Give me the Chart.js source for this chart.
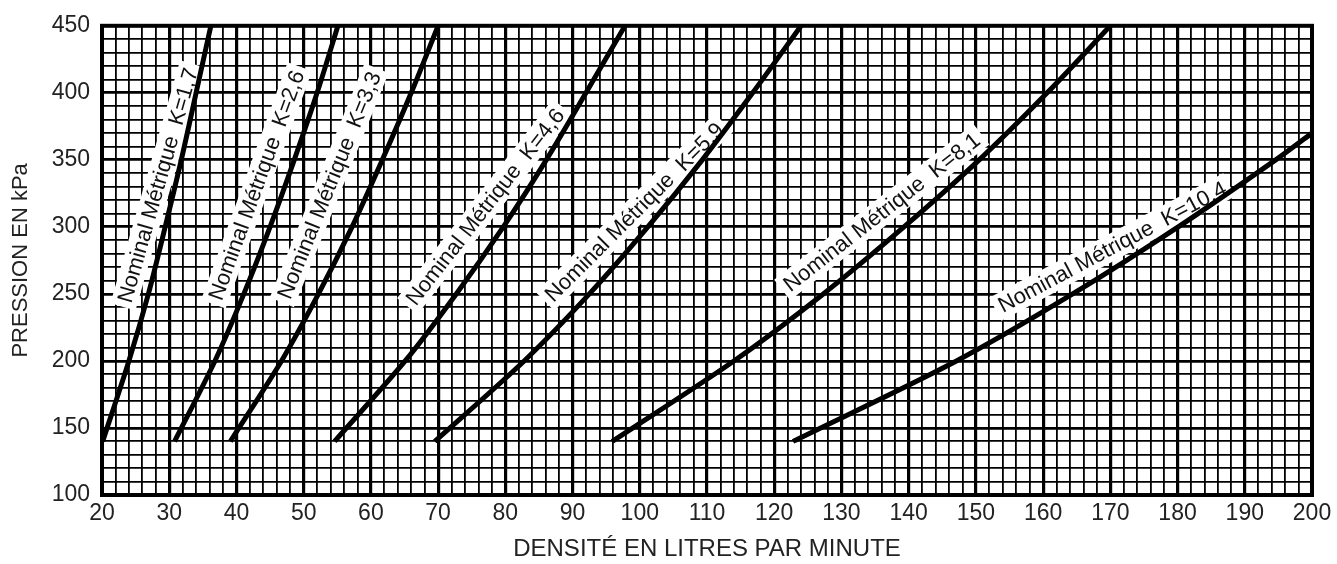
<!DOCTYPE html>
<html>

<head>
  <meta charset="utf-8">
  <title>Pression / densité</title>
  <style>
    body {
      margin: 0;
      background: #fff;
    }
  </style>
</head>

<body>
  <canvas id="myChart" width="1337" height="564"></canvas>
  <script src="https://cdn.jsdelivr.net/npm/chart.js"></script>
  <script>

    // pressures (kPa) where the flow of each curve was read
    var pressions = [140, 200, 250, 300, 350, 400, 450];
    var pressionsK104 = [140, 200, 250, 300, 350, 370];

    // flow (L/min)
    var debitK17 = [20.1, 24.0, 26.9, 29.4, 31.8, 34.0, 36.2];
    var debitK26 = [30.8, 36.8, 41.1, 45.0, 48.6, 52.0, 55.1];
    var debitK33 = [39.1, 46.7, 52.2, 57.2, 61.7, 66.0, 70.0];
    var debitK46 = [54.6, 65.1, 72.7, 79.7, 86.1, 92.0, 97.8];
    var debitK59 = [69.5, 82.8, 92.5, 101.2, 109.3, 116.8, 124.0];
    var debitK81 = [95.9, 114.0, 127.3, 139.3, 150.5, 160.6, 170.0];
    var debitK104 = [122.8, 147.1, 164.4, 180.1, 194.6, 200.0];

    var etiquettes = [
      'Nominal Métrique  K=1,7',
      'Nominal Métrique  K=2,6',
      'Nominal Métrique  K=3,3',
      'Nominal Métrique  K=4,6',
      'Nominal Métrique  K=5,9',
      'Nominal Métrique  K=8,1',
      'Nominal Métrique  K=10,4'
    ];

    // axis ranges
    var xMin = 20, xMax = 200, xStep = 2, xLabelEvery = 10;
    var yMin = 100, yMax = 450, yStep = 10, yLabelEvery = 50;

    // where each curve label is centred (data units) and its slant in degrees
    var etiqX = [28.3, 43.0, 53.8, 77.0, 99.2, 136.0, 170.3];
    var etiqY = [331, 331, 331, 315, 311, 311, 285];
    var etiqAngle = [74, 70, 68, 52, 45, 38, 28];

    var POLICE = '"Liberation Sans", Arial, sans-serif';

    function points(xs, ys) {
      return xs.map(function (x, i) { return { x: x, y: ys[i] }; });
    }

    var courbes = [
      points(debitK17, pressions),
      points(debitK26, pressions),
      points(debitK33, pressions),
      points(debitK46, pressions),
      points(debitK59, pressions),
      points(debitK81, pressions),
      points(debitK104, pressionsK104)
    ];

    // rotated labels in a white box, drawn before the curves so the lines stay on top
    var etiquettesPlugin = {
      id: 'etiquettes',
      beforeDatasetsDraw: function (chart) {
        var ctx = chart.ctx;
        var xs = chart.scales.x, ys = chart.scales.y;
        ctx.save();
        ctx.font = '22px ' + POLICE;
        ctx.textAlign = 'center';
        ctx.textBaseline = 'middle';
        etiquettes.forEach(function (txt, i) {
          var w = ctx.measureText(txt).width;
          ctx.save();
          ctx.translate(xs.getPixelForValue(etiqX[i]), ys.getPixelForValue(etiqY[i]));
          ctx.rotate(-etiqAngle[i] * Math.PI / 180);
          ctx.fillStyle = '#fff';
          ctx.fillRect(-w / 2 - 5, -13, w + 10, 26);
          ctx.fillStyle = '#111';
          ctx.fillText(txt, 0, 1);
          ctx.restore();
        });
        ctx.restore();
      }
    };

    var cadrePlugin = {
      id: 'cadre',
      afterDraw: function (chart) {
        var a = chart.chartArea;
        var ctx = chart.ctx;
        ctx.save();
        ctx.strokeStyle = '#000';
        ctx.lineWidth = 4;
        ctx.strokeRect(a.left, a.top, a.right - a.left, a.bottom - a.top);
        ctx.restore();
      }
    };

    Chart.defaults.font.family = POLICE;
    Chart.defaults.color = '#222';

    var config = {
      type: 'line',
      data: {
        datasets: courbes.map(function (c, i) {
          return {
            label: etiquettes[i],
            data: c,
            borderColor: '#000',
            borderWidth: 5,
            pointRadius: 0,
            tension: 0.3,
            fill: false
          };
        })
      },
      options: {
        responsive: false,
        animation: false,
        layout: { padding: { top: 19, right: 25, bottom: 0, left: 0 } },
        plugins: {
          legend: { display: false },
          tooltip: { enabled: false }
        },
        scales: {
          x: {
            type: 'linear',
            min: xMin,
            max: xMax,
            afterFit: function (s) { s.height = 69; },
            border: { display: false },
            grid: {
              color: '#000',
              drawTicks: false,
              lineWidth: function (c) { return c.tick && c.tick.value % xLabelEvery === 0 ? 3.2 : 1.8; }
            },
            ticks: {
              stepSize: xStep,
              autoSkip: false,
              maxRotation: 0,
              padding: 5,
              font: { size: 23 },
              callback: function (v) { return v % xLabelEvery === 0 ? v : ''; }
            },
            title: {
              display: true,
              text: 'DENSITÉ EN LITRES PAR MINUTE',
              font: { size: 24 },
              padding: { top: 0, bottom: 0 }
            }
          },
          y: {
            type: 'linear',
            min: yMin,
            max: yMax,
            afterFit: function (s) { s.width = 102; },
            border: { display: false },
            grid: {
              color: '#000',
              drawTicks: false,
              lineWidth: function (c) { return c.tick && c.tick.value % yLabelEvery === 0 ? 2.8 : 1.8; }
            },
            ticks: {
              stepSize: yStep,
              autoSkip: false,
              padding: 12,
              font: { size: 23 },
              callback: function (v) { return v % yLabelEvery === 0 ? v : ''; }
            },
            title: {
              display: true,
              text: 'PRESSION EN kPa',
              font: { size: 22 },
              padding: { top: 8, bottom: 0 }
            }
          }
        }
      },
      plugins: [etiquettesPlugin, cadrePlugin]
    };

    var myChart = new Chart(document.getElementById('myChart'), config);

  </script>
</body>

</html>
